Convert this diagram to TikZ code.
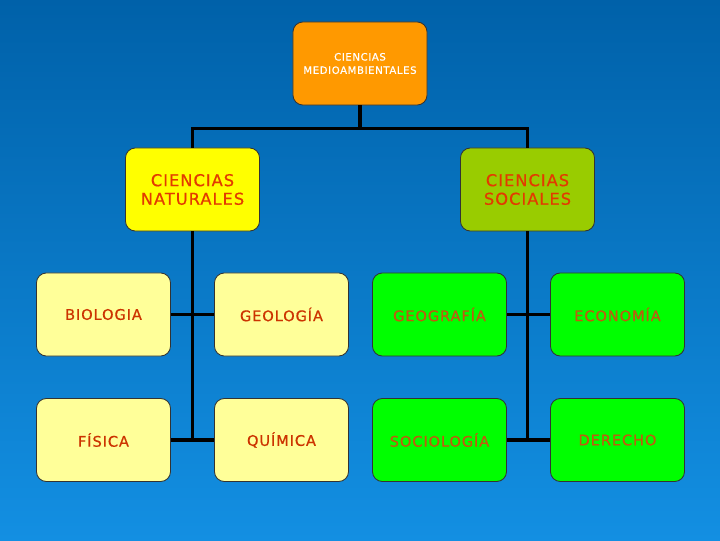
\documentclass[tikz,border=0pt]{standalone}
\usepackage{fontspec}
\usepackage{tikz}
\usetikzlibrary{positioning,calc}
\newfontfamily\boxfont[LetterSpace=6,FakeBold=0.6]{DejaVu Sans}
\definecolor{bgtop}{HTML}{0061A9}
\definecolor{bgmid}{HTML}{0068B6}
\definecolor{bgbot}{HTML}{138FE2}
\definecolor{orangebox}{HTML}{FF9900}
\definecolor{yellowbox}{HTML}{FFFF00}
\definecolor{olivebox}{HTML}{99CC00}
\definecolor{paleyellow}{HTML}{FFFF99}
\definecolor{brightgreen}{HTML}{00FF00}
\definecolor{redtext}{HTML}{E33A00}
\definecolor{rusttext}{HTML}{CC3300}
\definecolor{browntext}{HTML}{C05A10}
\begin{document}
\begin{tikzpicture}[
			x=0.025cm,y=0.025cm,
			box/.style={draw=black!80,line width=0.6pt,rounded corners=7pt,minimum width=3.35cm,minimum height=2.075cm,align=center,inner sep=0pt},
			topbox/.style={box,fill=orangebox,text=white,font=\boxfont\fontsize{7.2}{9.5}\selectfont},
			natbox/.style={box,fill=yellowbox,text=redtext,font=\boxfont\fontsize{11.6}{13.2}\selectfont},
			socbox/.style={box,fill=olivebox,text=redtext,font=\boxfont\fontsize{11.6}{13.2}\selectfont},
			natleaf/.style={box,fill=paleyellow,text=rusttext,font=\boxfont\fontsize{10.4}{12}\selectfont},
			socleaf/.style={box,fill=brightgreen,text=browntext,font=\boxfont\fontsize{10.4}{12}\selectfont},
			link/.style={black,line width=2.2pt}
			]
			\shade[top color=bgtop,middle color=bgmid,bottom color=bgbot] (0,0) rectangle (720,540);
			\node[topbox] (top) at (360,476.5) {CIENCIAS\\MEDIOAMBIENTALES};
			\node[natbox] (nat) at (192.5,350.5) {CIENCIAS\\NATURALES};
			\node[socbox] (soc) at (527.5,350.5) {CIENCIAS\\SOCIALES};
			\node[natleaf] (bio) at (103.5,225.5) {BIOLOGIA};
			\node[natleaf] (geo) at (281.5,225.5) {GEOLOGÍA};
			\node[socleaf] (geog) at (439.5,225.5) {GEOGRAFÍA};
			\node[socleaf] (eco) at (617.5,225.5) {ECONOMÍA};
			\node[natleaf] (fis) at (103.5,100) {FÍSICA};
			\node[natleaf] (qui) at (281.5,100) {QUÍMICA};
			\node[socleaf] (soci) at (439.5,100) {SOCIOLOGÍA};
			\node[socleaf] (der) at (617.5,100) {DERECHO};
			\coordinate (bus) at ($(top.south)+(0,-23)$);
			\draw[link] (top.south) -- (bus) -| (nat.north);
			\draw[link] (bus) -| (soc.north);
			\draw[link] (nat.south) -- (nat.south |- fis.east);
			\draw[link] (soc.south) -- (soc.south |- soci.east);
			\draw[link] (bio.east) -- (geo.west);
			\draw[link] (fis.east) -- (qui.west);
			\draw[link] (geog.east) -- (eco.west);
			\draw[link] (soci.east) -- (der.west);
		\end{tikzpicture}
\end{document}
